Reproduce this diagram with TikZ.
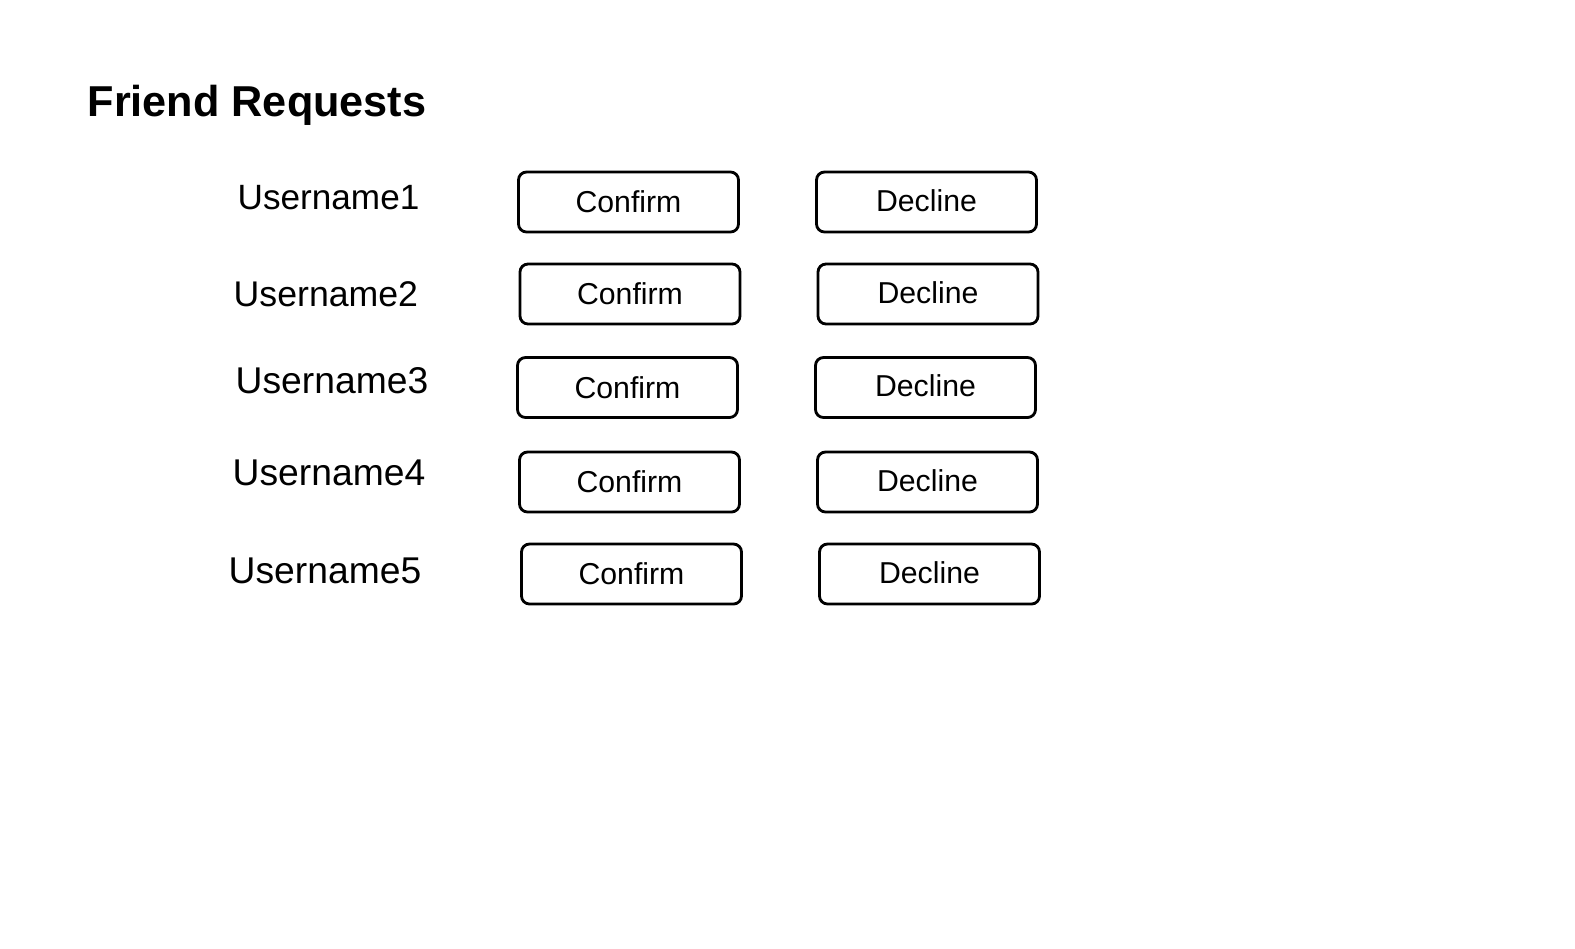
\documentclass[tikz,border=0pt]{standalone}
\usepackage{fontspec}
\setmainfont{Liberation Sans}

\tikzset{
  btn/.style = {draw, line width=0.8pt, rounded corners=0.08cm,
    minimum width=2.2cm, minimum height=0.6cm, inner sep=0pt,
    font=\fontsize{8.6}{10}\selectfont},
  uname/.style = {anchor=west, inner sep=0pt, font=\fontsize{10}{12}\selectfont},
  wide/.style = {font=\fontsize{10.6}{12}\selectfont}
}

\begin{document}
\begin{tikzpicture}[x=0.1mm, y=-0.1mm]
      \useasboundingbox (0, 0) rectangle (1575, 948);
      \node [anchor=west, inner sep=0pt, font=\bfseries\fontsize{12.3}{14}\selectfont] (title) at (87, 105) {Friend Requests};
      % rows of requests
      \node [uname] (user1) at (237, 198) {Username1};
      \node [btn] (confirm1) at (628.5, 202) {Confirm};
      \node [btn] (decline1) at (926.5, 202) {\raisebox{1pt}{Decline}};
      \node [uname, font=\fontsize{10.15}{12}\selectfont] (user2) at (233, 294) {Username2};
      \node [btn] (confirm2) at (630, 294) {Confirm};
      \node [btn] (decline2) at (928, 294) {\raisebox{1pt}{Decline}};
      \node [uname, wide] (user3) at (235, 381) {Username3};
      \node [btn] (confirm3) at (627.5, 387.5) {Confirm};
      \node [btn] (decline3) at (925.5, 387.5) {\raisebox{1pt}{Decline}};
      \node [uname, wide] (user4) at (232, 473) {Username4};
      \node [btn] (confirm4) at (629.5, 482) {Confirm};
      \node [btn] (decline4) at (927.5, 482) {\raisebox{1pt}{Decline}};
      \node [uname, wide] (user5) at (228, 571) {Username5};
      \node [btn] (confirm5) at (631.5, 574) {Confirm};
      \node [btn] (decline5) at (929.5, 574) {\raisebox{1pt}{Decline}};
    \end{tikzpicture}
\end{document}
